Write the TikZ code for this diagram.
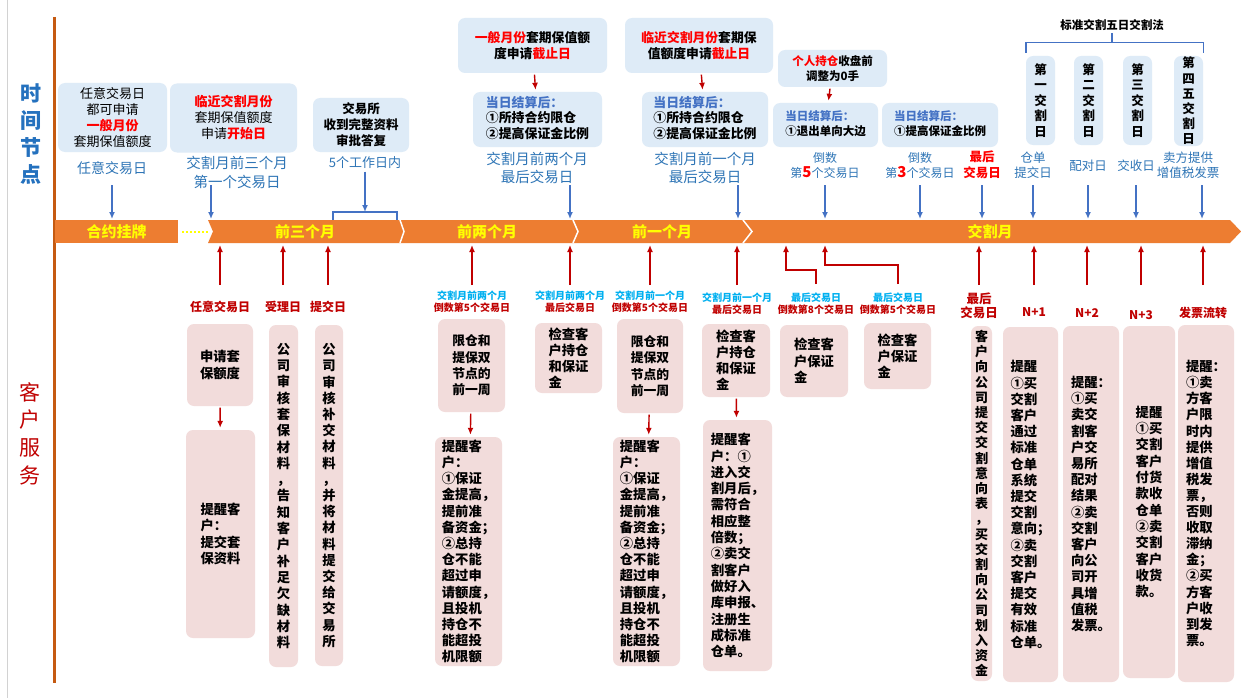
\documentclass[tikz,border=0pt]{standalone}
\usepackage{fontspec}
\setmainfont{Noto Sans CJK SC}
\usetikzlibrary{arrows.meta}
\definecolor{tblue}{RGB}{222,235,247}
\definecolor{pinkfill}{RGB}{242,220,219}
\definecolor{barorg}{RGB}{237,125,49}
\definecolor{axisorg}{RGB}{197,90,17}
\definecolor{arrblue}{RGB}{68,114,196}
\definecolor{labblue}{RGB}{46,117,182}
\definecolor{sideblue}{RGB}{36,113,190}
\definecolor{dred}{RGB}{192,0,0}
\definecolor{hred}{RGB}{255,0,0}
\definecolor{cyanlab}{RGB}{0,176,240}
\definecolor{barylw}{RGB}{255,255,0}

\begin{document}
\begin{tikzpicture}[x=1pt,y=-1pt,
        fs/.style 2 args={font=\fontsize{#1}{#2}\selectfont},
        fsb/.style 2 args={font=\fontsize{#1}{#2}\selectfont\bfseries},
        tbox/.style={fill=tblue,rounded corners=7pt,inner sep=0pt,align=center},
        cbox/.style={fill=pinkfill,rounded corners=7pt,inner sep=0pt,align=center},
        bartxt/.style={text=barylw,inner sep=0pt,fsb={15}{18}},
        barr/.style={draw=arrblue,line width=1.4pt,-{Latex[length=7pt,width=6pt]}},
        rarr/.style={draw=dred,line width=1.4pt,-{Latex[length=7pt,width=6pt]}},
        rsm/.style={rarr,shorten <=1.5pt,shorten >=2pt},
        brk/.style={draw=arrblue,line width=1.4pt},
        blab/.style={text=labblue,inner sep=0pt,align=center},
        rlab/.style={text=dred,inner sep=0pt,align=center,fsb={12}{14}},
        slab/.style={inner sep=0pt,align=center,fsb={10}{12}}]
        \path[fill=white,use as bounding box] (0,0) rectangle (1241,698);
    %纵轴,标题
        \draw [gray!35,line width=0.8pt] (7,0) -- (7,698);
        \draw [axisorg,line width=3pt] (54,17) -- (54,683);
        \node [text=sideblue,align=center,fsb={21}{27.3}] (side1) at (31,134) {时\\间\\节\\点};
        \node [text=dred,align=center,fs={21}{27.7}] (side2) at (30,433.5) {客\\户\\服\\务};
    %时间轴
        \node [fill=barorg,minimum width=123,minimum height=23,inner sep=0pt,text=barylw,fsb={15}{18}] (bar0) at (116.5,231.5) {合约挂牌};
        \draw [barylw,line width=2pt,dotted] ([xshift=4pt]bar0.east) -- ([xshift=30pt]bar0.east);
        \fill [barorg] (208,220) -- (1230,220) -- (1241,231.5) -- (1230,243) -- (208,243) -- (213,231.5) -- cycle;
        \foreach \x/\d in {400/4,573/5,743/9}
            \draw [white,line width=1.5pt] (\x,220) -- (\x+\d,231.5) -- (\x,243);
        \node [bartxt] (bar1) at (305,231.5) {前三个月};
        \node [bartxt] (bar2) at (487,231.5) {前两个月};
        \node [bartxt] (bar3) at (662,231.5) {前一个月};
        \node [bartxt] (bar4) at (990,231.5) {交割月};
        \coordinate (bartop) at (0,219);
        \coordinate (barbot) at (0,245);
    %时间节点:上方框
        \node [tbox,minimum width=109,minimum height=69,fs={13}{16.3}] (t1) at (112.5,117.5) {任意交易日\\都可申请\\\textcolor{hred}{\bfseries 一般月份}\\套期保值额度};
        \node [tbox,minimum width=127,minimum height=69,fs={13}{16}] (t2) at (233.5,118) {\textcolor{hred}{\bfseries 临近交割月份}\\套期保值额度\\申请\textcolor{hred}{\bfseries 开始日}};
        \node [tbox,minimum width=96,minimum height=54,fsb={12.5}{16}] (t3) at (361,125) {交易所\\收到完整资料\\审批答复};
        \node [tbox,minimum width=149,minimum height=55,fsb={12.8}{15.5}] (t4) at (532.5,45.5) {\textcolor{hred}{一般月份}套期保值额\\度申请\textcolor{hred}{截止日}};
        \node [tbox,minimum width=129,minimum height=55,fsb={12.9}{15}] (t5) at (537.5,119.5) {\begin{tabular}{@{}l@{}}\textcolor{arrblue}{当日结算后：}\\①所持合约限仓\\②提高保证金比例\end{tabular}};
        \node [tbox,minimum width=148,minimum height=55,fsb={12.8}{15.5}] (t6) at (699,45.5) {\textcolor{hred}{临近交割月份}套期保\\值额度申请\textcolor{hred}{截止日}};
        \node [tbox,minimum width=126,minimum height=55,fsb={12.9}{15}] (t7) at (705,119.5) {\begin{tabular}{@{}l@{}}\textcolor{arrblue}{当日结算后：}\\①所持合约限仓\\②提高保证金比例\end{tabular}};
        \node [tbox,minimum width=109,minimum height=37,fsb={11.5}{14.5}] (t8) at (832.5,68.5) {\textcolor{hred}{个人持仓}收盘前\\调整为0手};
        \node [tbox,minimum width=105,minimum height=44,fsb={11.5}{15}] (t9) at (825.5,125) {\begin{tabular}{@{}l@{}}\textcolor{arrblue}{当日结算后：}\\①退出单向大边\end{tabular}};
        \node [tbox,minimum width=116,minimum height=44,fsb={11.5}{15}] (t10) at (940,125) {\begin{tabular}{@{}l@{}}\textcolor{arrblue}{当日结算后：}\\①提高保证金比例\end{tabular}};
        \draw [rsm] (t4) -- (t5);
        \draw [rsm] (t6) -- (t7);
        \draw [rsm] (t8) -- (t9);
        %五日交割法
        \node [tbox,minimum width=29,minimum height=89,fsb={12.5}{15.5}] (d1) at (1040.5,100.5) {第\\一\\交\\割\\日};
        \node [tbox,minimum width=29,minimum height=89,fsb={12.5}{15.5}] (d2) at (1088.5,100.5) {第\\二\\交\\割\\日};
        \node [tbox,minimum width=29,minimum height=89,fsb={12.5}{15.5}] (d3) at (1137.5,100.5) {第\\三\\交\\割\\日};
        \node [tbox,minimum width=29,minimum height=90,fsb={12.5}{15.2}] (d4) at (1188.5,101) {第\\四\\五\\交\\割\\日};
        \node [inner sep=0pt,fsb={11.5}{14}] (std) at (1112,25) {标准交割五日交割法};
        \draw [brk] ([yshift=3pt]d1.north west) -- ++(0,-10) -| ([yshift=3pt]d4.north east);
        \draw [brk] (std.south |- 0,33) -- (std.south |- 0,43);
    %时间节点:蓝色标注
        \node [blab,fs={14}{18}] (l1) at (112,168) {任意交易日};
        \node [blab,fs={14.5}{19}] (l2) at (237,172.5) {交割月前三个月\\第一个交易日};
        \node [blab,fs={13}{16}] (l3) at (365,163) {5个工作日内};
        \node [blab,fs={14.5}{18}] (l4) at (537,168) {交割月前两个月\\最后交易日};
        \node [blab,fs={14.5}{18}] (l5) at (705,168) {交割月前一个月\\最后交易日};
        \node [blab,fs={12}{15}] (l6) at (825,165.5) {倒数\\第\textcolor{hred}{\fontsize{15}{15}\selectfont\bfseries 5}个交易日};
        \node [blab,fs={12}{15}] (l7) at (920,165.5) {倒数\\第\textcolor{hred}{\fontsize{15}{15}\selectfont\bfseries 3}个交易日};
        \node [blab,text=hred,fsb={12.5}{16}] (l8) at (982,165) {最后\\交易日};
        \node [blab,fs={12.5}{15}] (l9) at (1033,165.5) {仓单\\提交日};
        \node [blab,fs={12.5}{15}] (l10) at (1088,166) {配对日};
        \node [blab,fs={12.5}{15}] (l11) at (1136,166) {交收日};
        \node [blab,fs={12.5}{15}] (l12) at (1188,165.5) {卖方提供\\增值税发票};
        \coordinate (a2) at (211,185);
        \coordinate (a4) at (570,185);
        \coordinate (a5) at (738,185);
        \coordinate (a12) at (1202,185);
        \foreach \n in {l1,l6,l7,l8,l9,l10,l11}
            \draw [barr] (\n.south |- 0,185) -- (\n.south |- bartop);
        \foreach \n in {a2,a4,a5,a12}
            \draw [barr] (\n) -- (\n |- bartop);
        %5个工作日内
        \draw [barr,shorten <=2.5pt] (l3.south) -- (l3.south |- 0,212) coordinate (brk1);
        \draw [brk] ([xshift=-32pt,yshift=-8pt]brk1) |- ([xshift=32pt]brk1) -- ++(0,8);
    %客户服务:红色标注
        \node [rlab] (b1) at (220,307) {任意交易日};
        \node [rlab] (b2) at (283,307) {受理日};
        \node [rlab] (b3) at (328,307) {提交日};
        \node [slab] (b4) at (472,302) {\textcolor{cyanlab}{交割月前两个月}\\\textcolor{dred}{倒数第5个交易日}};
        \node [slab] (b5) at (570,302) {\textcolor{cyanlab}{交割月前两个月}\\\textcolor{dred}{最后交易日}};
        \node [slab] (b6) at (650,302) {\textcolor{cyanlab}{交割月前一个月}\\\textcolor{dred}{倒数第5个交易日}};
        \node [slab] (b7) at (737,304) {\textcolor{cyanlab}{交割月前一个月}\\\textcolor{dred}{最后交易日}};
        \node [slab] (b8) at (816,304) {\textcolor{cyanlab}{最后交易日}\\\textcolor{dred}{倒数第8个交易日}};
        \node [slab] (b9) at (898,304) {\textcolor{cyanlab}{最后交易日}\\\textcolor{dred}{倒数第5个交易日}};
        \node [rlab,fsb={12.5}{14}] (b10) at (979,306) {最后\\交易日};
        \node [rlab] (b11) at (1034,312) {N+1};
        \node [rlab] (b12) at (1087,313) {N+2};
        \node [rlab] (b13) at (1141,315) {N+3};
        \node [rlab] (b14) at (1203,313) {发票流转};
        \foreach \n in {b1,b2,b3,b4,b5,b6,b7,b10,b11,b12,b13,b14}
            \draw [rarr] (\n.north |- 0,285) -- (\n.north |- barbot);
        \draw [rarr] (b8.north |- 0,284) -- ++(0,-14) -- ++(-30,0) -- ++(0,-25);
        \draw [rarr] (b9.north |- 0,284) -- ++(0,-19) -- ++(-73,0) -- ++(0,-20);
    %客户服务:方框
        \node [cbox,minimum width=66,minimum height=82,fsb={13.3}{16.5}] (c1) at (220,365) {申请套\\保额度};
        \node [cbox,minimum width=69,minimum height=208,fsb={13.3}{16.3},align=left] (c2) at (220.5,534) {提醒客\\户：\\提交套\\保资料};
        \draw [rsm] (c1) -- (c2);
        \node [cbox,minimum width=29,minimum height=342,fsb={13.3}{16.3}] (c3) at (283.5,496) {公\\司\\审\\核\\套\\保\\材\\料\\，\\告\\知\\客\\户\\补\\足\\欠\\缺\\材\\料};
        \node [cbox,minimum width=28,minimum height=341,fsb={13.3}{16.2}] (c4) at (329,495.5) {公\\司\\审\\核\\补\\交\\材\\料\\，\\并\\将\\材\\料\\提\\交\\给\\交\\易\\所};
        \node [cbox,minimum width=67,minimum height=93,fsb={12.8}{16.3}] (c5) at (471.5,365.5) {限仓和\\提保双\\节点的\\前一周};
        \node [cbox,minimum width=67,minimum height=229,fsb={13.3}{16.2},align=left] (c6) at (468.5,551.5) {提醒客\\户：\\①保证\\金提高，\\提前准\\备资金；\\②总持\\仓不能\\超过申\\请额度，\\且投机\\持仓不\\能超投\\机限额};
        \draw [rsm] (c5) -- (c6);
        \node [cbox,minimum width=67,minimum height=70,fsb={13.3}{16},align=left] (c7) at (568.5,358) {检查客\\户持仓\\和保证\\金};
        \node [cbox,minimum width=66,minimum height=94,fsb={12.8}{16.3}] (c8) at (650,366) {限仓和\\提保双\\节点的\\前一周};
        \node [cbox,minimum width=67,minimum height=229,fsb={13.3}{16.2},align=left] (c9) at (646.5,551.5) {提醒客\\户：\\①保证\\金提高，\\提前准\\备资金；\\②总持\\仓不能\\超过申\\请额度，\\且投机\\持仓不\\能超投\\机限额};
        \draw [rsm] (c8) -- (c9);
        \node [cbox,minimum width=68,minimum height=73,fsb={13.3}{16},align=left] (c10) at (736,360.5) {检查客\\户持仓\\和保证\\金};
        \node [cbox,minimum width=69,minimum height=251,fsb={13.3}{16.3},align=left] (c11) at (737.5,545.5) {提醒客\\户：①\\进入交\\割月后，\\需符合\\相应整\\倍数；\\②卖交\\割客户\\做好入\\库申报、\\注册生\\成标准\\仓单。};
        \draw [rsm] (c10) -- (c11);
        \node [cbox,minimum width=68,minimum height=72,fsb={13.3}{16.5},align=left] (c12) at (814,361) {检查客\\户保证\\金};
        \node [cbox,minimum width=67,minimum height=66,fsb={13.3}{16},align=left] (c13) at (897.5,356) {检查客\\户保证\\金};
        \node [cbox,minimum width=21,minimum height=355,fsb={13}{15.2}] (c14) at (981.5,503.5) {客\\户\\向\\公\\司\\提\\交\\交\\割\\意\\向\\表\\，\\买\\交\\割\\向\\公\\司\\划\\入\\资\\金};
        \node [cbox,minimum width=55,minimum height=355,fsb={13.3}{16.2},align=left] (c15) at (1030.5,504.5) {提醒\\①买\\交割\\客户\\通过\\标准\\仓单\\系统\\提交\\交割\\意向；\\②卖\\交割\\客户\\提交\\有效\\标准\\仓单。};
        \node [cbox,minimum width=56,minimum height=356,fsb={13.3}{16.2},align=left] (c16) at (1091,504) {提醒：\\①买\\卖交\\割客\\户交\\易所\\配对\\结果\\②卖\\交割\\客户\\向公\\司开\\具增\\值税\\发票。};
        \node [cbox,minimum width=52,minimum height=352,fsb={13.3}{16.3},align=left] (c17) at (1149,502) {提醒\\①买\\交割\\客户\\付货\\款收\\仓单\\②卖\\交割\\客户\\收货\\款。};
        \node [cbox,minimum width=56,minimum height=357,fsb={13.3}{16.1},align=left] (c18) at (1206,503.5) {提醒：\\①卖\\方客\\户限\\时内\\提供\\增值\\税发\\票，\\否则\\收取\\滞纳\\金；\\②买\\方客\\户收\\到发\\票。};
\end{tikzpicture}
\end{document}
